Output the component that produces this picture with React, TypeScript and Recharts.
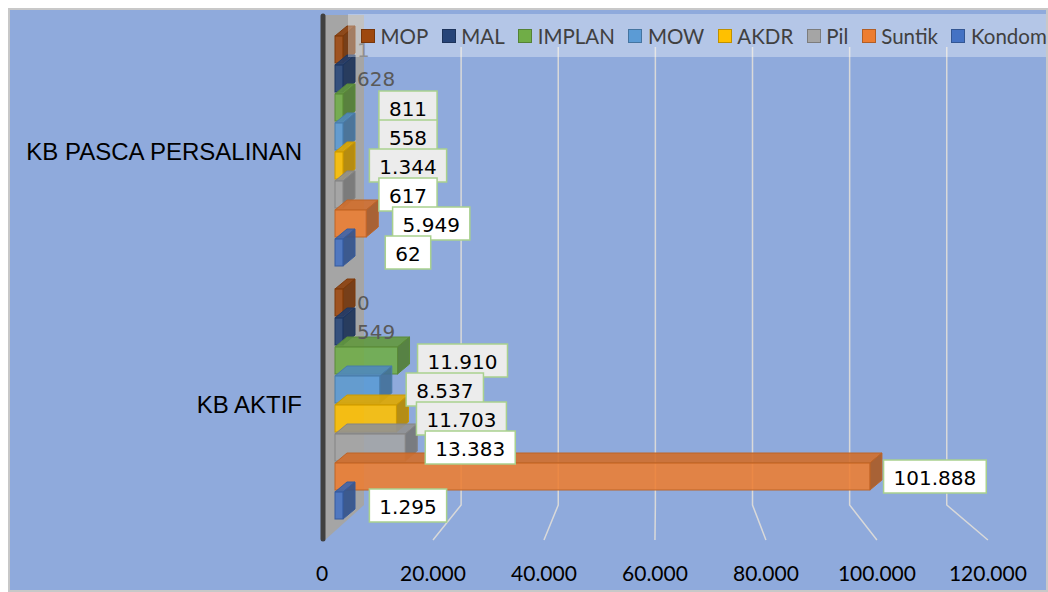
import { BarChart, Bar, XAxis, YAxis, CartesianGrid, Legend, LabelList } from 'recharts';

const categories = ['KB PASCA PERSALINAN', 'KB AKTIF'];
const seriesNames = ['MOP', 'MAL', 'IMPLAN', 'MOW', 'AKDR', 'Pil', 'Suntik', 'Kondom'];
const mop = [1, 0];
const mal = [628, 549];
const implan = [811, 11910];
const mow = [558, 8537];
const akdr = [1344, 11703];
const pil = [617, 13383];
const suntik = [5949, 101888];
const kondom = [62, 1295];
const xTicks = [0, 20000, 40000, 60000, 80000, 100000, 120000];

const seriesValues = [mop, mal, implan, mow, akdr, pil, suntik, kondom];
const colors = ['#9E480E', '#264478', '#70AD47', '#5B9BD5', '#FFC000', '#A5A5A5', '#ED7D31', '#4472C4'];
// how each series' label is drawn: plain grey text, grey box or white box
const labelStyle = ['plain', 'plain', 'grey', 'grey', 'grey', 'white', 'white', 'white'];

const data = categories.map((name, i) => {
  const row: Record<string, string | number> = { name };
  seriesNames.forEach((s, k) => {
    row[s] = seriesValues[k][i];
  });
  return row;
});

const W = 1036;
const H = 580;
const PLOT_L = 325;
const PLOT_R = 955;
const DX = 12;
const DY = 10;

// fake perspective: back wall is narrower, floor labels wider than the bar plane
const backX = (x: number) => PLOT_L + 29 + (x - PLOT_L) * 0.925;
const floorX = (x: number) => PLOT_L - 13 + (x - PLOT_L) * 1.057;

const fmt = (v: number) => String(v).replace(/\B(?=(\d{3})+(?!\d))/g, '.');

function shade(hex: string, f: number) {
  const n = parseInt(hex.slice(1), 16);
  const r = Math.round(((n >> 16) & 255) * f);
  const g = Math.round(((n >> 8) & 255) * f);
  const b = Math.round((n & 255) * f);
  return `rgb(${r},${g},${b})`;
}

function Box3D(props: any) {
  const { x, y, width, height, fill } = props;
  if (x == null || y == null) return null;
  const w = Math.max(width, 0);
  const top = shade(fill, 0.88);
  const side = shade(fill, 0.72);
  const edge = shade(fill, 0.8);
  return (
    <g>
      <polygon
        points={`${x},${y} ${x + DX},${y - DY} ${x + w + DX},${y - DY} ${x + w},${y}`}
        fill={top}
        fillOpacity={0.9}
        stroke={edge}
        strokeWidth={1}
      />
      <polygon
        points={`${x + w},${y} ${x + w + DX},${y - DY} ${x + w + DX},${y + height - DY} ${x + w},${y + height}`}
        fill={side}
        fillOpacity={0.9}
        stroke={edge}
        strokeWidth={1}
      />
      <rect x={x} y={y} width={w} height={height} fill={fill} fillOpacity={0.88} stroke={edge} strokeWidth={1} />
    </g>
  );
}

function textWidth(t: string) {
  let w = 0;
  for (const ch of t) w += ch === '.' ? 6.36 : 12.72;
  return w;
}

function makeLabel(kind: string) {
  return (props: any) => {
    const { x, y, width, height, value } = props;
    if (x == null || value == null) return null;
    const t = fmt(Number(value));
    const cy = y + height / 2;
    const end = x + width;
    if (kind === 'plain') {
      return (
        <text x={end + 14} y={cy} fill="#595959" fontSize={20} fontFamily="DejaVu Sans" dominantBaseline="central">
          {t}
        </text>
      );
    }
    const bw = textWidth(t) + 20;
    const bh = 33;
    const cx = end + 65;
    return (
      <g>
        <rect
          x={cx - bw / 2}
          y={cy - bh / 2}
          width={bw}
          height={bh}
          fill={kind === 'grey' ? '#ECECEC' : '#FFFFFF'}
          stroke="#A9D18E"
          strokeWidth={1.5}
        />
        <text x={cx} y={cy + 1} textAnchor="middle" dominantBaseline="central" fontSize={20} fontFamily="DejaVu Sans" fill="#000">
          {t}
        </text>
      </g>
    );
  };
}

function XTick(props: any) {
  const { x, y, payload } = props;
  return (
    <text x={floorX(x)} y={y + 41} textAnchor="middle" dominantBaseline="central" fontFamily="Lato" fontSize={21} fill="#000">
      {fmt(payload.value)}
    </text>
  );
}

function YTick(props: any) {
  const { x, y, payload } = props;
  return (
    <text x={x} y={y} textAnchor="end" dominantBaseline="central" fontFamily="Liberation Sans, Arial" fontSize={24} fill="#000">
      {payload.value}
    </text>
  );
}

function gridLine(props: any) {
  const { x1, y1, y2 } = props;
  if (Math.abs(x1 - PLOT_L) < 1) return <g key="g0" />;
  const xb = backX(x1);
  const xf = floorX(x1);
  return (
    <polyline
      key={`g${x1}`}
      points={`${xb},${y1 + 22} ${xb},${y2 - 26} ${xf},${y2 + 9}`}
      fill="none"
      stroke="#D9D9D9"
      strokeWidth={1.5}
    />
  );
}

function LegendBox() {
  return (
    <div
      style={{
        width: '100%',
        height: '100%',
        background: 'rgba(255,255,255,0.33)',
        display: 'flex',
        alignItems: 'center',
        paddingLeft: 13,
        boxSizing: 'border-box',
        fontFamily: 'Lato',
        fontSize: 20.5,
        color: '#404040',
        whiteSpace: 'nowrap',
      }}
    >
      {seriesNames.map((n, k) => (
        <span key={n} style={{ display: 'flex', alignItems: 'center', marginRight: 13.5 }}>
          <span
            style={{
              display: 'inline-block',
              width: 12,
              height: 12,
              background: colors[k],
              border: `1.5px solid ${shade(colors[k], 0.75)}`,
              marginRight: 5.5,
            }}
          />
          {n}
        </span>
      ))}
    </div>
  );
}

export default function App() {
  return (
    <div
      style={{
        position: 'absolute',
        left: 8,
        top: 8,
        width: 1040,
        height: 584,
        boxSizing: 'border-box',
        border: '2px solid #C8C8C8',
        background: '#8FAADC',
      }}
    >
      <div style={{ position: 'relative', width: W, height: H }}>
        {/* back wall */}
        <svg width={W} height={H} style={{ position: 'absolute', left: 0, top: 0 }}>
          <polygon points="315,5 354,5 354,495 315,530" fill="#A5A5A5" />
          <line x1={313} y1={6} x2={313} y2={529} stroke="#404040" strokeWidth={5} strokeLinecap="round" />
        </svg>
        <BarChart
          width={W}
          height={H}
          data={data}
          layout="vertical"
          margin={{ top: 15, right: W - PLOT_R, bottom: 0, left: 0 }}
          barCategoryGap={11}
          barGap={2}
        >
          <CartesianGrid horizontal={false} vertical={gridLine} />
          <XAxis
            type="number"
            domain={[0, 120000]}
            ticks={xTicks}
            axisLine={false}
            tickLine={false}
            tickSize={0}
            tickMargin={0}
            height={59}
            tick={<XTick />}
            interval={0}
          />
          <YAxis
            type="category"
            dataKey="name"
            width={PLOT_L}
            axisLine={false}
            tickLine={false}
            tickSize={0}
            tickMargin={33}
            tick={<YTick />}
          />
          <Legend
            layout="horizontal"
            verticalAlign="middle"
            align="center"
            wrapperStyle={{ left: 338, top: 4, width: 698, height: 43 }}
            content={() => <LegendBox />}
          />
          {seriesNames.map((s, k) => (
            <Bar
              key={s}
              dataKey={s}
              name={s}
              fill={colors[k]}
              shape={<Box3D />}
              minPointSize={8}
              isAnimationActive={false}
            >
              <LabelList dataKey={s} content={makeLabel(labelStyle[k])} />
            </Bar>
          ))}
        </BarChart>
      </div>
    </div>
  );
}
